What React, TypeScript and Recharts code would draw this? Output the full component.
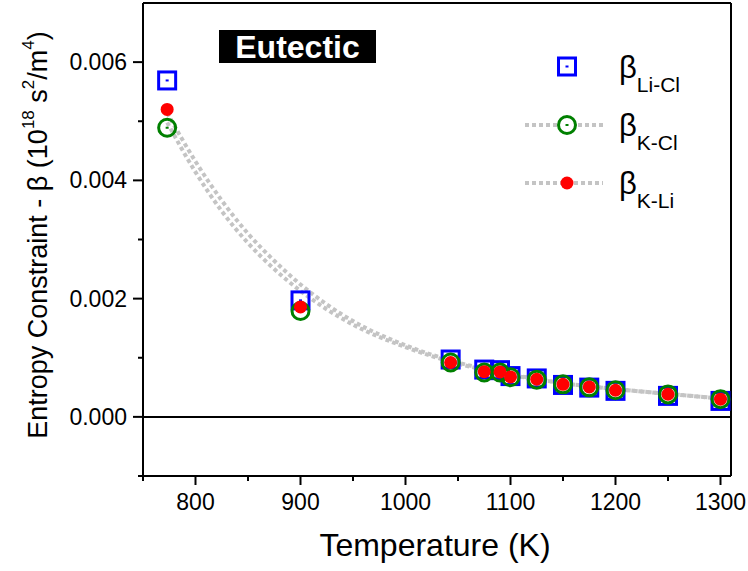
import React from 'react';
import { ComposedChart, Line, Scatter, XAxis, YAxis, ReferenceLine } from 'recharts';

const temps = [773, 900, 1043, 1075, 1090, 1100, 1125, 1150, 1175, 1200, 1250, 1300];
const liCl = [0.00569, 0.00197, 0.00097, 0.0008, 0.00079, 0.00069, 0.00065, 0.00054, 0.000495, 0.00044, 0.000355, 0.00027];
const kCl = [0.00489, 0.00179, 0.00092, 0.00075, 0.00075, 0.00067, 0.00063, 0.00055, 0.0005, 0.00045, 0.00038, 0.0003];
const kLi = [0.0052, 0.00186, 0.00092, 0.000765, 0.00076, 0.000676, 0.000636, 0.00055, 0.000507, 0.00045, 0.000383, 0.0003];

const fitT = [773, 800, 825, 850, 875, 900, 950, 1000, 1050, 1100, 1150, 1200, 1250, 1300];
const kClFit = [0.00498, 0.00414, 0.00348, 0.00294, 0.0025, 0.00213, 0.00156, 0.00118, 0.0009, 0.00071, 0.00057, 0.00047, 0.00039, 0.00031];
const kLiFit = [0.00514, 0.00432, 0.00366, 0.0031, 0.00264, 0.00224, 0.00162, 0.00121, 0.00092, 0.00072, 0.00057, 0.00047, 0.00039, 0.00031];

const xMajor = [800, 900, 1000, 1100, 1200, 1300];
const xTicks = [750, 800, 850, 900, 950, 1000, 1050, 1100, 1150, 1200, 1250, 1300];
const yMajor = [0, 0.002, 0.004, 0.006];
const yTicks = [-0.001, 0, 0.001, 0.002, 0.003, 0.004, 0.005, 0.006];

const toPts = (xs: number[], ys: number[]) => xs.map((x, i) => ({ x, y: ys[i] }));
const liClPts = toPts(temps, liCl);
const kClPts = toPts(temps, kCl);
const kLiPts = toPts(temps, kLi);
const kClFitPts = toPts(fitT, kClFit);
const kLiFitPts = toPts(fitT, kLiFit);

const FONT = 'Arial, "Liberation Sans", Helvetica, sans-serif';
const LINE_GRAY = '#c4c4c4';

const SquareShape = (p: any) => {
  const { cx, cy } = p;
  if (cx == null || cy == null) return null;
  return (
    <g>
      <rect x={cx - 8.5} y={cy - 8.5} width={17} height={17} fill="none" stroke="#0000ff" strokeWidth={3} />
      <rect x={cx - 1.5} y={cy - 1} width={3} height={2} fill="#0000ff" />
    </g>
  );
};
const CircleShape = (p: any) => {
  const { cx, cy } = p;
  if (cx == null || cy == null) return null;
  return (
    <g>
      <circle cx={cx} cy={cy} r={8.5} fill="none" stroke="#008000" strokeWidth={3} />
      <rect x={cx - 1.5} y={cy - 1} width={3} height={2} fill="#008000" />
    </g>
  );
};
const DotShape = (p: any) => {
  const { cx, cy } = p;
  if (cx == null || cy == null) return null;
  return <circle cx={cx} cy={cy} r={6.5} fill="#ff0000" />;
};

const XTick = (p: any) => {
  const { x, y, payload } = p;
  const major = xMajor.includes(payload.value);
  return (
    <g>
      <line x1={x} x2={x} y1={y} y2={y + (major ? 9 : 5)} stroke="#000" strokeWidth={2} />
      {major && (
        <text x={x} y={y + 26} textAnchor="middle" dominantBaseline="central" fontSize={23} fontFamily={FONT} fill="#000">
          {payload.value}
        </text>
      )}
    </g>
  );
};
const YTick = (p: any) => {
  const { x, y, payload } = p;
  const v = payload.value;
  const major = yMajor.some((m) => Math.abs(m - v) < 1e-9);
  return (
    <g>
      <line x1={x - (major ? 10 : 5)} x2={x} y1={y} y2={y} stroke="#000" strokeWidth={2} />
      {major && (
        <text x={x - 16} y={y} textAnchor="end" dominantBaseline="central" fontSize={23} fontFamily={FONT} fill="#000">
          {v.toFixed(3)}
        </text>
      )}
    </g>
  );
};

export default function App() {
  return (
    <div style={{ position: 'absolute', left: 0, top: 0, width: 748, height: 571, background: '#fff' }}>
      <ComposedChart width={748} height={571} margin={{ top: 3, right: 17, bottom: 55, left: 83 }}>
        <XAxis
          type="number"
          dataKey="x"
          domain={[750, 1310]}
          ticks={xTicks}
          interval={0}
          tick={<XTick />}
          tickLine={false}
          tickSize={0}
          tickMargin={0}
          height={40}
          axisLine={{ stroke: '#000', strokeWidth: 2 }}
          allowDataOverflow
        />
        <YAxis
          type="number"
          dataKey="y"
          domain={[-0.001, 0.007]}
          ticks={yTicks}
          interval={0}
          tick={<YTick />}
          tickLine={false}
          tickSize={0}
          tickMargin={0}
          width={60}
          axisLine={{ stroke: '#000', strokeWidth: 2 }}
          allowDataOverflow
        />
        <ReferenceLine y={0} stroke="#000" strokeWidth={2} />
        <ReferenceLine y={0.007} stroke="#000" strokeWidth={2} />
        <ReferenceLine x={1310} stroke="#000" strokeWidth={2} />
        <Line data={kClFitPts} dataKey="y" type="monotone" stroke={LINE_GRAY} strokeWidth={4} strokeDasharray="4 3" dot={false} activeDot={false} isAnimationActive={false} />
        <Line data={kLiFitPts} dataKey="y" type="monotone" stroke={LINE_GRAY} strokeWidth={4} strokeDasharray="4 3" dot={false} activeDot={false} isAnimationActive={false} />
        <Scatter data={liClPts} dataKey="y" shape={<SquareShape />} isAnimationActive={false} />
        <Scatter data={kClPts} dataKey="y" shape={<CircleShape />} isAnimationActive={false} />
        <Scatter data={kLiPts} dataKey="y" shape={<DotShape />} isAnimationActive={false} />
      </ComposedChart>
      <svg width={748} height={571} style={{ position: 'absolute', left: 0, top: 0, pointerEvents: 'none' }}>
        <rect x={219} y={30} width={157} height={33} fill="#000" />
        <text x={297.5} y={47} textAnchor="middle" dominantBaseline="central" fontSize={32} fontWeight="bold" fontFamily={FONT} fill="#fff">
          Eutectic
        </text>
        <text
          transform="translate(38,235) rotate(-90)"
          textAnchor="middle"
          dominantBaseline="central"
          fontSize={27}
          fontFamily={FONT}
          fill="#000"
        >
          Entropy Constraint - β (10<tspan fontSize={17} dy={-10}>18</tspan>
          <tspan dy={10}> s</tspan>
          <tspan fontSize={17} dy={-10}>2</tspan>
          <tspan dy={10}>/m</tspan>
          <tspan fontSize={17} dy={-10}>4</tspan>
          <tspan dy={10}>)</tspan>
        </text>
        <text x={435} y={545} textAnchor="middle" dominantBaseline="central" fontSize={32} fontFamily={FONT} fill="#000">
          Temperature (K)
        </text>
        <g>
          <rect x={558.5} y={58} width={17} height={17} fill="none" stroke="#0000ff" strokeWidth={3} />
          <rect x={565.5} y={65.5} width={3} height={2} fill="#0000ff" />
          <text x={619} y={78} fontSize={31} fontFamily={FONT} fill="#000">
            β<tspan fontSize={21} dy={14}>Li-Cl</tspan>
          </text>

          <line x1={525} x2={557} y1={125} y2={125} stroke={LINE_GRAY} strokeWidth={4} strokeDasharray="4 3" />
          <line x1={578} x2={603} y1={125} y2={125} stroke={LINE_GRAY} strokeWidth={4} strokeDasharray="4 3" />
          <circle cx={567} cy={125} r={8.5} fill="none" stroke="#008000" strokeWidth={3} />
          <rect x={565.5} y={124} width={3} height={2} fill="#008000" />
          <text x={619} y={136} fontSize={31} fontFamily={FONT} fill="#000">
            β<tspan fontSize={21} dy={14}>K-Cl</tspan>
          </text>

          <line x1={525} x2={603} y1={183} y2={183} stroke={LINE_GRAY} strokeWidth={4} strokeDasharray="4 3" />
          <circle cx={567} cy={183} r={6.5} fill="#ff0000" />
          <text x={619} y={194} fontSize={31} fontFamily={FONT} fill="#000">
            β<tspan fontSize={21} dy={14}>K-Li</tspan>
          </text>
        </g>
      </svg>
    </div>
  );
}
